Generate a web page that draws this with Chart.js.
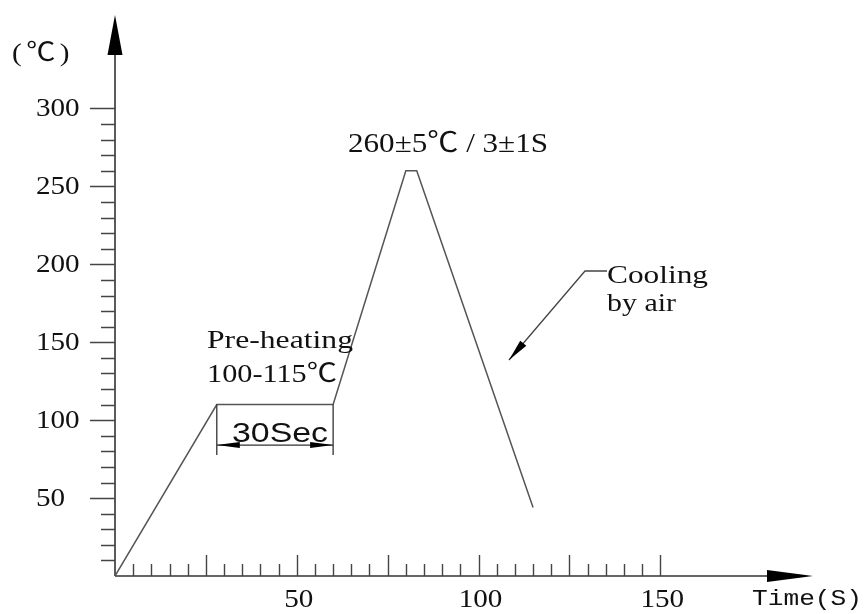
<!DOCTYPE html>
<html>
<head>
<meta charset="utf-8">
<script src="https://cdn.jsdelivr.net/npm/chart.js@4.4.0/dist/chart.umd.min.js"></script>
<style>
  body { margin: 0; background: #fff; }
  #wrap { width: 865px; height: 614px; }
</style>
</head>
<body>
<div id="wrap"><canvas id="chart-profile" width="865" height="614"></canvas></div>
<script>
// reflow profile: time (s) vs temperature (C)
var times = [0, 28, 60, 80, 83, 115];
var temps = [0, 110, 110, 260, 260, 44];
var yTickLabels = [50, 100, 150, 200, 250, 300];
var xTickLabels = [50, 100, 150];
var yMinorStep = 10;
var xMinorStep = 5;
var xMajorStep = 25;

var points = times.map(function (t, i) { return { x: t, y: temps[i] }; });

// text helper, squeezes/stretches horizontally like the drawing
function label(c, str, x, y, o) {
  c.save();
  c.font = o.font;
  c.fillStyle = "#111";
  c.textAlign = o.align || "left";
  c.textBaseline = o.base || "alphabetic";
  if (o.spacing) c.letterSpacing = o.spacing;
  var sx = o.sx || 1;
  if (o.w) sx = o.w / c.measureText(str).width;
  c.translate(x, y);
  c.scale(sx, 1);
  c.fillText(str, 0, 0);
  c.restore();
}

function arrow(c, tx, ty, fx, fy, len, half) {
  var a = Math.atan2(ty - fy, tx - fx);
  var bx = tx - Math.cos(a) * len, by = ty - Math.sin(a) * len;
  c.beginPath();
  c.moveTo(tx, ty);
  c.lineTo(bx + Math.sin(a) * half, by - Math.cos(a) * half);
  c.lineTo(bx - Math.sin(a) * half, by + Math.cos(a) * half);
  c.closePath();
  c.fill();
}

// Liberation Serif has no ℃, let the CJK font supply it
var serif = "'Liberation Serif', 'Noto Sans CJK SC', serif";

var profileAxes = {
  id: "profileAxes",
  beforeDatasetsDraw: function (chart) {
    var c = chart.ctx, xs = chart.scales.x, ys = chart.scales.y;
    var x0 = xs.getPixelForValue(0), y0 = ys.getPixelForValue(0);
    var xEnd = xs.getPixelForValue(xs.max), yEnd = ys.getPixelForValue(ys.max);
    c.save();
    c.strokeStyle = "#333";
    c.fillStyle = "#000";
    c.lineWidth = 1.6;
    c.beginPath();
    c.moveTo(x0, y0); c.lineTo(x0, yEnd + 20);
    c.moveTo(x0, y0); c.lineTo(xEnd - 20, y0);
    c.stroke();
    arrow(c, x0, yEnd, x0, y0, 40, 7.5);
    arrow(c, xEnd, y0, x0, y0, 46, 6);

    // ticks
    c.lineWidth = 1.4;
    c.strokeStyle = "#444";
    c.beginPath();
    var yMax = yTickLabels[yTickLabels.length - 1];
    for (var v = yMinorStep; v <= yMax; v += yMinorStep) {
      var py = Math.round(ys.getPixelForValue(v)) + 0.5;
      var len = v % 50 === 0 ? 25 : 14;
      c.moveTo(x0 - len, py); c.lineTo(x0, py);
    }
    var xMax = xTickLabels[xTickLabels.length - 1];
    for (v = xMinorStep; v <= xMax; v += xMinorStep) {
      var px = Math.round(xs.getPixelForValue(v)) + 0.5;
      len = v % xMajorStep === 0 ? 21 : 12;
      c.moveTo(px, y0); c.lineTo(px, y0 - len);
    }
    c.stroke();
    c.restore();

    yTickLabels.forEach(function (t) {
      label(c, String(t), 36, ys.getPixelForValue(t) + 1, { font: "26px " + serif, sx: 1.12, base: "middle" });
    });
    xTickLabels.forEach(function (t) {
      label(c, String(t), xs.getPixelForValue(t) + 2, 600, { font: "26px " + serif, sx: 1.12, align: "center", base: "middle" });
    });
    label(c, "(℃)", 12, 54, { font: "26px " + serif, w: 62, base: "middle", spacing: "4px" });
    label(c, "Time(S)", 752, 599, { font: "22px 'Liberation Mono', monospace", w: 110, base: "middle" });
  }
};

var profileNotes = {
  id: "profileNotes",
  afterDatasetsDraw: function (chart) {
    var c = chart.ctx, xs = chart.scales.x, ys = chart.scales.y;
    // 30 s dimension under the pre-heating plateau
    var xa = xs.getPixelForValue(times[1]), xb = xs.getPixelForValue(times[2]);
    var top = ys.getPixelForValue(temps[1]);
    var dy = ys.getPixelForValue(84);
    c.save();
    c.strokeStyle = "#333";
    c.fillStyle = "#000";
    c.lineWidth = 1.3;
    c.beginPath();
    c.moveTo(xa, top); c.lineTo(xa, dy + 10);
    c.moveTo(xb, top); c.lineTo(xb, dy + 10);
    c.moveTo(xa, dy); c.lineTo(xb, dy);
    c.stroke();
    arrow(c, xa, dy, xb, dy, 23, 3);
    arrow(c, xb, dy, xa, dy, 23, 3);

    // cooling leader
    c.strokeStyle = "#444";
    c.beginPath();
    c.moveTo(607, 271); c.lineTo(585, 271); c.lineTo(509, 360);
    c.stroke();
    arrow(c, 509, 360, 585, 271, 22, 4);
    c.restore();

    label(c, "30Sec", 232, 442, { font: "28px 'Liberation Sans', Arial, sans-serif", w: 96 });
    label(c, "Pre-heating", 207, 348, { font: "26px " + serif, w: 146 });
    label(c, "100-115℃", 207, 382, { font: "26px " + serif, w: 130 });
    label(c, "260±5℃ / 3±1S", 348, 152, { font: "28px " + serif, w: 200 });
    label(c, "Cooling", 607, 283, { font: "26px " + serif, w: 101 });
    label(c, "by air", 607, 311, { font: "26px " + serif, sx: 1.15 });
  }
};

var ctx = document.getElementById("chart-profile").getContext("2d");
new Chart(ctx, {
  type: "line",
  data: {
    datasets: [
      {
        label: "Profile",
        data: points,
        borderColor: "#555",
        borderWidth: 1.5,
        pointRadius: 0,
        tension: 0,
        fill: false,
      },
    ],
  },
  options: {
    responsive: false,
    animation: false,
    layout: { padding: { left: 115, right: 52, top: 15, bottom: 38 } },
    plugins: {
      legend: { display: false },
      tooltip: { enabled: false },
    },
    scales: {
      x: { type: "linear", min: 0, max: 192, display: false },
      y: { min: 0, max: 360, display: false },
    },
  },
  plugins: [profileAxes, profileNotes],
});
</script>
</body>
</html>
